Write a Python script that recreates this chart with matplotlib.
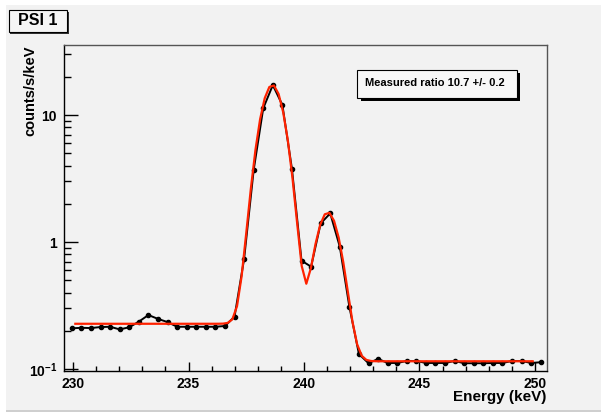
# Energy spectrum around the 238.6 keV line with a two-peak fit (ROOT-style canvas).
# Output: out.png

import math

import matplotlib.pyplot as plt
import matplotlib.patches as mpatches
from matplotlib.ticker import FixedLocator, FixedFormatter, NullFormatter
import numpy as np

plt.rcParams["font.family"] = ["Liberation Sans", "DejaVu Sans"]
plt.rcParams["font.weight"] = "bold"
plt.rcParams["mathtext.fontset"] = "custom"
plt.rcParams["mathtext.rm"] = "Liberation Sans:bold"
plt.rcParams["mathtext.bf"] = "Liberation Sans:bold"
plt.rcParams["mathtext.default"] = "bf"

# measured spectrum: bin centres (keV) and rate (counts/s/keV)
E_FIRST, E_LAST, N_BINS = 229.95, 250.25, 50
RATE = [
    0.209, 0.211, 0.210, 0.214, 0.215, 0.205, 0.213, 0.236, 0.266, 0.248,
    0.234, 0.215, 0.215, 0.215, 0.215, 0.215, 0.218, 0.258, 0.735, 3.69,
    11.3, 17.2, 12.0, 3.76, 0.713, 0.639, 1.40, 1.68, 0.918, 0.309,
    0.131, 0.111, 0.120, 0.1115, 0.1115, 0.1156, 0.1156, 0.1115, 0.1115, 0.1115,
    0.1156, 0.111, 0.111, 0.111, 0.1115, 0.1115, 0.1156, 0.1156, 0.1115, 0.113,
]

# fit: two gaussians on a step background
FIT_RANGE = (230.1, 249.9)
FIT_NPX = 100
PEAK_CENTRES = [238.63, 241.03]
PEAK_SIGMA = 0.47
PEAK1_AMP = 17.1
RATIO = 10.7
RATIO_ERR = 0.2
BG_LOW_SIDE = 0.227
BG_HIGH_SIDE = 0.115

X_TICKS = [230, 235, 240, 245, 250]
Y_TICKS = [0.1, 1, 10]
Y_TICK_LABELS = [r"10$^{-1}$", "1", "10"]

W, H = 601, 412


def fit_curve(e):
    amps = [PEAK1_AMP, PEAK1_AMP / RATIO]
    out = []
    for x in e:
        step = 0.5 * math.erfc((x - PEAK_CENTRES[0]) / (math.sqrt(2) * PEAK_SIGMA))
        y = BG_HIGH_SIDE + (BG_LOW_SIDE - BG_HIGH_SIDE) * step
        for a, c in zip(amps, PEAK_CENTRES):
            y += a * math.exp(-0.5 * ((x - c) / PEAK_SIGMA) ** 2)
        out.append(y)
    return np.array(out)


def px_box(x0, y0, x1, y1):
    # pixel box (top-left origin) -> figure fraction rectangle
    return (x0 / W, 1 - y1 / H), (x1 - x0) / W, (y1 - y0) / H


def main():
    fig = plt.figure(figsize=(W / 100, H / 100), dpi=100, facecolor="white")

    # canvas background and lower border
    xy, w, h = px_box(6, 5, 601, 410)
    fig.add_artist(mpatches.Rectangle(xy, w, h, transform=fig.transFigure,
                                      facecolor="#f2f2f2", edgecolor="none", zorder=-10))
    xy, w, h = px_box(6, 410, 601, 412)
    fig.add_artist(mpatches.Rectangle(xy, w, h, transform=fig.transFigure,
                                      facecolor="#cfcfcf", edgecolor="none", zorder=-10))

    ax = fig.add_axes([64 / W, 1 - 371 / H, (547 - 64) / W, (371 - 45) / H])
    ax.set_facecolor("#f2f2f2")

    energy = np.linspace(E_FIRST, E_LAST, N_BINS)
    ax.plot(energy, RATE, color="black", linewidth=1.4, marker="o",
            markersize=3.0, zorder=3)

    e_fit = np.linspace(FIT_RANGE[0], FIT_RANGE[1], FIT_NPX)
    ax.plot(e_fit, fit_curve(e_fit), color="#ff2200", linewidth=1.6, zorder=4)

    ax.set_yscale("log")
    ax.set_xlim(229.61, 250.52)
    ax.set_ylim(0.0964, 35.6)

    ax.xaxis.set_major_locator(FixedLocator(X_TICKS))
    ax.xaxis.set_minor_locator(FixedLocator(range(230, 251)))
    ax.yaxis.set_major_locator(FixedLocator(Y_TICKS))
    ax.yaxis.set_major_formatter(FixedFormatter(Y_TICK_LABELS))
    ax.yaxis.set_minor_locator(FixedLocator(
        [m * d for d in (0.1, 1, 10) for m in range(2, 10) if m * d < 35.6]))
    ax.yaxis.set_minor_formatter(NullFormatter())

    ax.tick_params(axis="x", which="major", direction="in", length=6.5, width=1.0,
                   labelsize=10, pad=4, top=False)
    ax.tick_params(axis="x", which="minor", direction="in", length=3.3, width=1.0, top=False)
    ax.tick_params(axis="y", which="major", direction="in", length=10, width=1.0,
                   labelsize=10, pad=5, right=False)
    ax.tick_params(axis="y", which="minor", direction="in", length=5, width=1.0, right=False)

    for side in ("left", "bottom"):
        ax.spines[side].set_color("black")
        ax.spines[side].set_linewidth(1.0)
    for side in ("top", "right"):
        ax.spines[side].set_color("#555555")
        ax.spines[side].set_linewidth(1.0)

    fig.text(546 / W, 1 - 397 / H, "Energy (keV)", ha="right", va="center",
             fontsize=11, fontweight="bold")
    fig.text(30 / W, 1 - 45 / H, "counts/s/keV", ha="center", va="top",
             rotation=90, fontsize=10.5, fontweight="bold")

    # title pave with shadow
    xy, w, h = px_box(10.5, 11.5, 68.5, 33.5)
    fig.add_artist(mpatches.Rectangle(xy, w, h, transform=fig.transFigure,
                                      facecolor="#333333", edgecolor="none"))
    xy, w, h = px_box(8.5, 9.5, 66.5, 31.5)
    fig.add_artist(mpatches.Rectangle(xy, w, h, transform=fig.transFigure,
                                      facecolor="#f5f5f5", edgecolor="black", linewidth=0.8))
    fig.text(37.5 / W, 1 - 20.5 / H, "PSI 1", ha="center", va="center",
             fontsize=11.5, fontweight="bold")

    # ratio pave with shadow
    xy, w, h = px_box(360.5, 72.5, 520, 100.5)
    fig.add_artist(mpatches.Rectangle(xy, w, h, transform=fig.transFigure,
                                      facecolor="black", edgecolor="none"))
    xy, w, h = px_box(357, 69.5, 516.5, 97.5)
    fig.add_artist(mpatches.Rectangle(xy, w, h, transform=fig.transFigure,
                                      facecolor="#f7f7f7", edgecolor="black", linewidth=0.8))
    fig.text(365 / W, 1 - 83.5 / H, f"Measured ratio {RATIO} +/- {RATIO_ERR}",
             ha="left", va="center", fontsize=8, fontweight="bold")

    fig.savefig("out.png", dpi=100, facecolor=fig.get_facecolor())


if __name__ == "__main__":
    main()
